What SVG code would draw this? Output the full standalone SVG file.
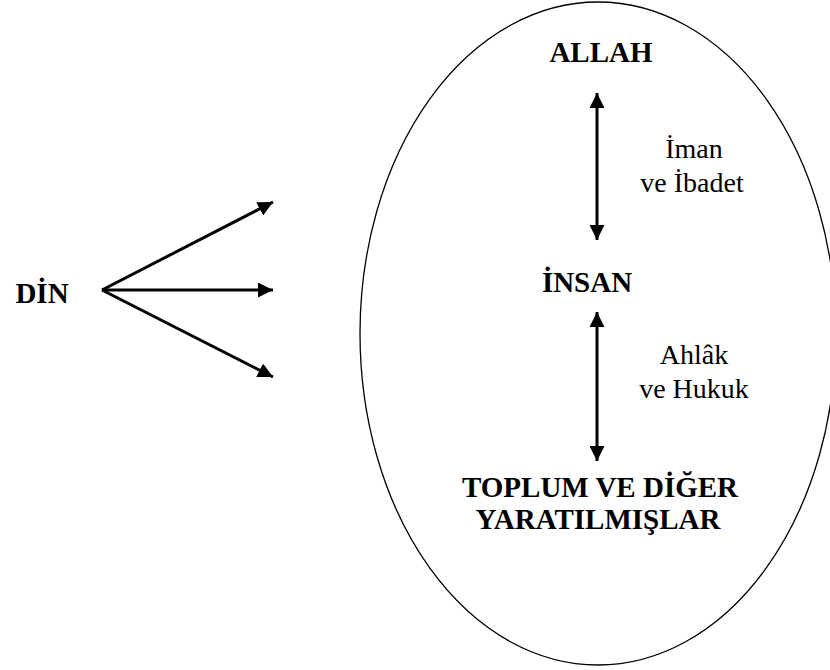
<svg xmlns="http://www.w3.org/2000/svg" width="830" height="670" viewBox="0 0 830 670">
<style>
.b{font-family:"Liberation Serif",serif;font-weight:bold;fill:#000;text-anchor:middle;font-size:29px}
.r{font-family:"Liberation Serif",serif;fill:#000;text-anchor:middle;font-size:28px}
.c{stroke:#000;stroke-width:3;fill:none}
</style>
<defs>
<marker id="ah" viewBox="0 0 10 10" refX="10" refY="5" markerWidth="5" markerHeight="5" markerUnits="strokeWidth" orient="auto-start-reverse">
<path d="M0,0 L10,5 L0,10 z" fill="#000"/>
</marker>
</defs>
<rect width="830" height="670" fill="#fff"/>
<g id="ellipse"><ellipse cx="598" cy="333.5" rx="238" ry="331.5" fill="none" stroke="#000" stroke-width="1.3"/></g>
<g id="din"><text class="b" x="42" y="303" font-size="32">DİN</text></g>
<g id="allah"><text class="b" x="601" y="62">ALLAH</text></g>
<g id="insan"><text class="b" x="587" y="292">İNSAN</text></g>
<g id="toplum"><text class="b" x="600" y="497">TOPLUM VE DİĞER</text><text class="b" x="598" y="529">YARATILMIŞLAR</text></g>
<g id="iman"><text class="r" x="694" y="158">İman</text><text class="r" x="692" y="192">ve İbadet</text></g>
<g id="ahlak"><text class="r" x="694" y="364">Ahlâk</text><text class="r" x="694" y="398">ve Hukuk</text></g>
<g id="connectors">
<line class="c" x1="102" y1="290" x2="273" y2="202" marker-end="url(#ah)"/>
<line class="c" x1="102" y1="290" x2="273" y2="290" marker-end="url(#ah)"/>
<line class="c" x1="102" y1="290" x2="273" y2="377" marker-end="url(#ah)"/>
<line class="c" x1="597" y1="93" x2="597" y2="240" marker-start="url(#ah)" marker-end="url(#ah)"/>
<line class="c" x1="597" y1="312" x2="597" y2="461" marker-start="url(#ah)" marker-end="url(#ah)"/>
</g>
</svg>
